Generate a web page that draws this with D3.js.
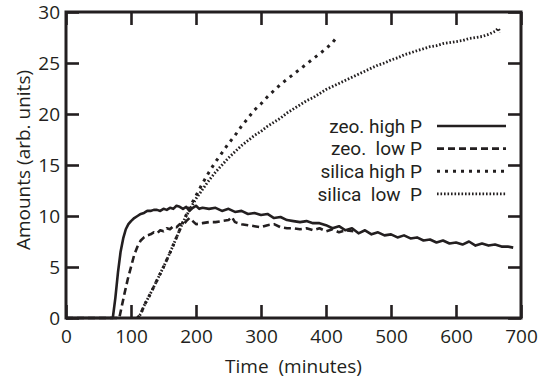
<!DOCTYPE html>
<meta charset="utf-8">
<script src="https://d3js.org/d3.v7.min.js"></script>
<style>
  body { margin: 0; background: #fff; }
  text { font-family: "Open Sans", sans-serif; fill: #231f20; white-space: pre; }
  .legend text { font-family: Roboto, sans-serif; }
</style>
<div id="chart"></div>
<script>

// datos
var zeoHighT = [0, 72, 76, 80, 84, 88, 92, 96, 100, 105, 110, 115, 120, 125, 130, 135, 140, 145, 150, 155, 160, 165, 170, 175, 180, 185, 190, 195, 200, 205, 210, 220, 230, 240, 250, 260, 270, 280, 290, 300, 310, 320, 330, 340, 350, 360, 370, 380, 390, 400, 410, 420, 430, 440, 450, 460, 470, 480, 490, 500, 510, 520, 530, 540, 550, 560, 570, 580, 590, 600, 610, 620, 630, 640, 650, 660, 670, 680, 688];
var zeoHighV = [0, 0, 2, 4.5, 6.5, 7.8, 8.7, 9.2, 9.5, 9.8, 10.0, 10.2, 10.3, 10.5, 10.5, 10.6, 10.6, 10.5, 10.7, 10.6, 10.8, 10.7, 11.0, 10.9, 10.7, 10.9, 10.5, 10.8, 11.0, 10.7, 10.8, 10.7, 10.8, 10.5, 10.7, 10.4, 10.5, 10.2, 10.3, 10.1, 10.2, 9.8, 9.9, 9.6, 9.5, 9.4, 9.5, 9.3, 9.3, 9.1, 8.8, 9.0, 8.6, 8.8, 8.3, 8.6, 8.2, 8.4, 8.1, 8.2, 7.9, 8.1, 7.8, 7.9, 7.6, 7.7, 7.4, 7.6, 7.3, 7.4, 7.2, 7.5, 7.1, 7.3, 7.1, 7.2, 7.0, 7.0, 6.9];

var zeoLowT = [0, 82, 86, 90, 95, 100, 105, 110, 115, 120, 125, 130, 135, 140, 145, 150, 155, 160, 165, 170, 175, 180, 185, 190, 195, 200, 210, 220, 230, 240, 250, 255, 260, 270, 280, 290, 300, 310, 320, 330, 340, 350, 360, 370, 380, 390, 400, 410, 420, 430, 442];
var zeoLowV = [0, 0, 1.2, 2.4, 3.8, 5.0, 6.2, 7.0, 7.6, 7.9, 8.1, 8.2, 8.4, 8.3, 8.6, 8.5, 8.8, 8.7, 9.0, 8.9, 9.2, 9.1, 9.5, 9.8, 9.5, 9.2, 9.3, 9.4, 9.4, 9.5, 9.6, 9.9, 9.4, 9.2, 9.1, 9.0, 8.9, 9.1, 9.2, 8.9, 8.8, 8.8, 8.7, 8.8, 8.6, 8.8, 8.5, 8.7, 8.4, 8.6, 8.5];

var silHighT = [110, 115, 120, 130, 140, 150, 160, 170, 180, 190, 200, 210, 220, 230, 240, 250, 260, 270, 280, 290, 300, 310, 320, 330, 340, 350, 360, 370, 380, 390, 400, 410, 415];
var silHighV = [0, 0.4, 1.2, 2.4, 3.7, 5.0, 6.4, 7.9, 9.4, 10.8, 12.0, 13.2, 14.3, 15.3, 16.2, 17.1, 17.9, 18.8, 19.6, 20.4, 21.0, 21.7, 22.3, 22.9, 23.4, 23.9, 24.4, 24.9, 25.4, 25.9, 26.4, 27.0, 27.4];

var silLowT = [110, 115, 120, 130, 140, 150, 160, 170, 180, 190, 200, 210, 220, 230, 240, 250, 260, 270, 280, 290, 300, 310, 320, 330, 340, 350, 360, 370, 380, 390, 400, 410, 420, 430, 440, 450, 460, 470, 480, 490, 500, 510, 520, 530, 540, 550, 560, 570, 580, 590, 600, 610, 620, 630, 640, 650, 660, 665, 668];
var silLowV = [0, 0.4, 1.2, 2.4, 3.7, 5.0, 6.4, 7.9, 9.4, 10.6, 11.7, 12.6, 13.5, 14.3, 15.0, 15.7, 16.3, 16.9, 17.4, 17.9, 18.3, 18.8, 19.2, 19.6, 20.1, 20.5, 20.9, 21.3, 21.6, 22.0, 22.4, 22.7, 23.0, 23.3, 23.6, 23.9, 24.2, 24.5, 24.8, 25.0, 25.3, 25.5, 25.8, 26.0, 26.2, 26.4, 26.6, 26.7, 26.9, 27.0, 27.1, 27.2, 27.4, 27.5, 27.6, 27.8, 28.1, 28.4, 28.0];

var seriesNames = ["zeo. high P", "zeo.  low P", "silica high P", "silica  low  P"];
var xTicks = [0, 100, 200, 300, 400, 500, 600, 700];
var yTicks = [0, 5, 10, 15, 20, 25, 30];

// dimensiones
var margin = {top: 12, right: 27, bottom: 68, left: 66},
    width = 548 - margin.left - margin.right,
    height = 386 - margin.top - margin.bottom;

var svg = d3.select("#chart")
  .append("svg")
    .attr("width", 548)
    .attr("height", 386)
  .append("g")
    .attr("transform", "translate(" + margin.left + "," + margin.top + ")");

var x = d3.scaleLinear().domain([0, 700]).range([0, width]);
var y = d3.scaleLinear().domain([0, 30]).range([height, 0]);

// ejes con marcas hacia dentro
var tick = 13;
svg.append("g")
  .attr("class", "axis")
  .attr("transform", "translate(0," + height + ")")
  .call(d3.axisBottom(x).tickValues(xTicks).tickSizeInner(-tick).tickSizeOuter(0).tickPadding(12));
svg.append("g")
  .attr("class", "axis")
  .call(d3.axisLeft(y).tickValues(yTicks).tickSizeInner(-tick).tickSizeOuter(0).tickPadding(6));
svg.append("g")
  .attr("class", "axis noLabel")
  .call(d3.axisTop(x).tickValues(xTicks).tickSizeInner(-tick).tickSizeOuter(0));
svg.append("g")
  .attr("class", "axis noLabel")
  .attr("transform", "translate(" + width + ",0)")
  .call(d3.axisRight(y).tickValues(yTicks).tickSizeInner(-tick).tickSizeOuter(0));

svg.selectAll(".axis .domain").remove();
svg.selectAll(".axis line").attr("stroke", "#231f20").attr("stroke-width", 2.6);
svg.selectAll(".axis text").style("font-size", "19px").attr("fill", "#231f20");
svg.selectAll(".noLabel text").remove();

svg.append("rect")
  .attr("width", width)
  .attr("height", height)
  .attr("fill", "none")
  .attr("stroke", "#231f20")
  .attr("stroke-width", 3);

// curvas
var dashes = [null, "7,4", "3,5", "1.6,1.9"];
var widths = [2.6, 2.6, 3, 2.8];
var data = [
  d3.zip(zeoHighT, zeoHighV),
  d3.zip(zeoLowT, zeoLowV),
  d3.zip(silHighT, silHighV),
  d3.zip(silLowT, silLowV)
];

var line = d3.line()
  .x(function(d) { return x(d[0]); })
  .y(function(d) { return y(d[1]); });

data.forEach(function(s, i) {
  svg.append("path")
    .datum(s)
    .attr("fill", "none")
    .attr("stroke", "#231f20")
    .attr("stroke-width", widths[i])
    .attr("stroke-dasharray", dashes[i])
    .attr("stroke-linejoin", "round")
    .attr("d", line);
});

// leyenda
var leg = svg.append("g").attr("class", "legend").attr("transform", "translate(356,114)");
seriesNames.forEach(function(n, i) {
  var yy = i * 22.6;
  leg.append("text")
    .attr("x", 0)
    .attr("y", yy)
    .attr("dy", "0.36em")
    .attr("text-anchor", "end")
    .style("font-size", "19px")
    .text(n);
  leg.append("line")
    .attr("x1", 15).attr("x2", 84)
    .attr("y1", yy).attr("y2", yy)
    .attr("stroke", "#231f20")
    .attr("stroke-width", widths[i])
    .attr("stroke-dasharray", dashes[i]);
});

// titulos de ejes
svg.append("text")
  .attr("x", width / 2)
  .attr("y", height + 55)
  .attr("text-anchor", "middle")
  .style("font-size", "19px")
  .text("Time  (minutes)");

svg.append("text")
  .attr("transform", "rotate(-90)")
  .attr("x", -height / 2 + 5)
  .attr("y", -36)
  .attr("text-anchor", "middle")
  .style("font-size", "19px")
  .text("Amounts (arb. units)");

</script>
